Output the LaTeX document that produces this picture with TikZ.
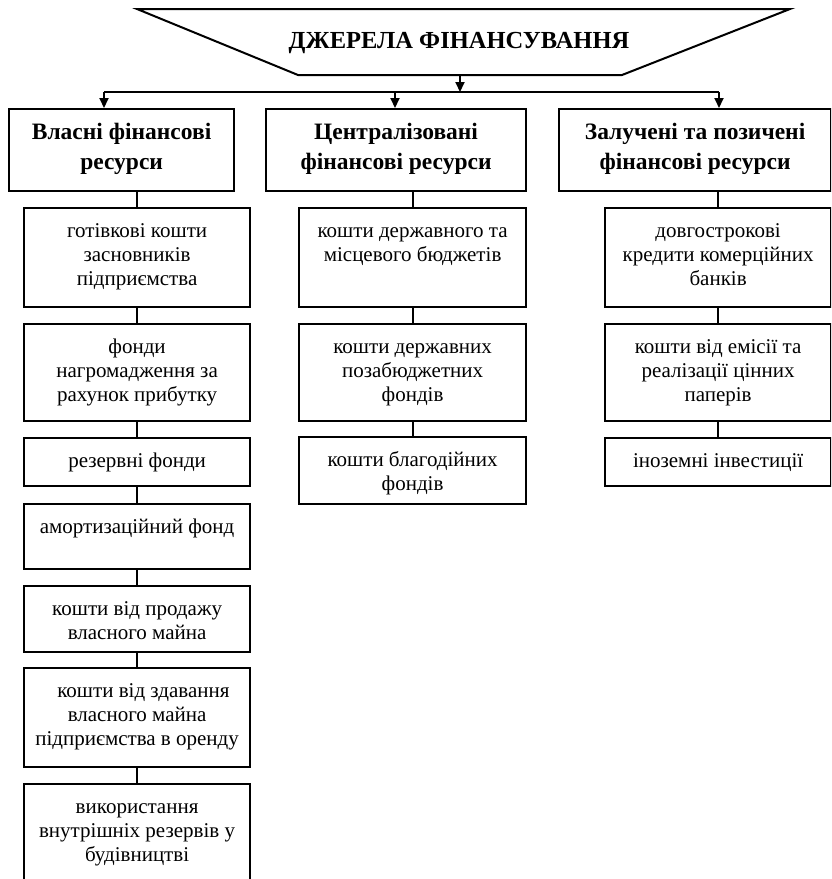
\documentclass[tikz,border=0pt]{standalone}
\usepackage{fontspec}
\setmainfont{Liberation Serif}
\usetikzlibrary{arrows.meta}
\tikzset{
  frame/.style={draw, line width=2.2pt, inner sep=0pt, anchor=north west},
  conn/.style={line width=2pt},
  arr/.style={line width=2pt, -{Triangle[length=10pt,width=9pt]}},
  head/.style={font=\bfseries\fontsize{23.5}{30}\selectfont, align=center, inner sep=0pt},
  body/.style={font=\fontsize{21}{24}\selectfont, align=center, inner sep=0pt, anchor=north},
  ttl/.style={font=\bfseries\fontsize{24.5}{28}\selectfont, inner sep=0pt}
}
\begin{document}
\begin{tikzpicture}[x=1pt,y=-1pt]
\useasboundingbox (0,0) rectangle (831,879);
\clip (0,0) rectangle (831,879);
% source trapezoid
\draw[line width=2pt, line join=miter] (137,9) -- (790,9) -- (622,75) -- (298,75) -- cycle;
\node[ttl] (src) at (459,43) {ДЖЕРЕЛА ФІНАНСУВАННЯ};
\coordinate (srcb) at (460,75);
\coordinate (bus) at (460,92);
\coordinate (b1) at (104,92);
\coordinate (b2) at (395,92);
\coordinate (b3) at (719,92);
% headers
\node[frame, minimum width=225pt, minimum height=82pt] (h1) at (8,108) {};
\node[frame, minimum width=260pt, minimum height=82pt] (h2) at (265,108) {};
\node[frame, minimum width=272pt, minimum height=82pt] (h3) at (558,108) {};
\node[head] (th1) at ([yshift=1pt]h1.center) {Власні фінансові\\ресурси};
\node[head] (th2) at ([yshift=1pt]h2.center) {Централізовані\\фінансові ресурси};
\node[head] (th3) at ([yshift=1pt]h3.center) {Залучені та позичені\\фінансові ресурси};
% connectors from source
\draw[arr] (srcb) -- (bus);
\draw[conn] (b1) -- (b3);
\draw[arr] (b1) -- (h1.north -| b1);
\draw[arr] (b2) -- (h2.north -| b2);
\draw[arr] (b3) -- (h3.north -| b3);
% column 1
\node[frame, minimum width=226pt, minimum height=99pt] (a1) at (23,207) {};
\node[frame, minimum width=226pt, minimum height=97pt] (a2) at (23,323) {};
\node[frame, minimum width=226pt, minimum height=48pt] (a3) at (23,437) {};
\node[frame, minimum width=226pt, minimum height=65pt] (a4) at (23,503) {};
\node[frame, minimum width=226pt, minimum height=66pt] (a5) at (23,585) {};
\node[frame, minimum width=226pt, minimum height=99pt] (a6) at (23,667) {};
\node[frame, minimum width=226pt, minimum height=130pt] (a7) at (23,783) {};
\node[body] (ta1) at ([yshift=-13pt]a1.north) {\strut готівкові кошти\\засновників\\підприємства};
\node[body] (ta2) at ([yshift=-13pt]a2.north) {\strut фонди\\нагромадження за\\рахунок прибутку};
\node[body] (ta3) at ([yshift=-13pt]a3.north) {\strut резервні фонди};
\node[body] (ta4) at ([yshift=-13pt]a4.north) {\strut амортизаційний фонд};
\node[body] (ta5) at ([yshift=-13pt]a5.north) {\strut кошти від продажу\\власного майна};
\node[body] (ta6) at ([yshift=-13pt]a6.north) {\strut\hspace*{0.6em}кошти від здавання\\власного майна\\підприємства в оренду};
\node[body] (ta7) at ([yshift=-13pt]a7.north) {\strut використання\\внутрішніх резервів у\\будівництві};
% column 2
\node[frame, minimum width=227pt, minimum height=99pt] (c1) at (298,207) {};
\node[frame, minimum width=227pt, minimum height=97pt] (c2) at (298,323) {};
\node[frame, minimum width=227pt, minimum height=67pt] (c3) at (298,436) {};
\node[body] (tc1) at ([yshift=-13pt]c1.north) {\strut кошти державного та\\місцевого бюджетів};
\node[body] (tc2) at ([yshift=-13pt]c2.north) {\strut кошти державних\\позабюджетних\\фондів};
\node[body] (tc3) at ([yshift=-13pt]c3.north) {\strut кошти благодійних\\фондів};
% column 3
\node[frame, minimum width=226pt, minimum height=99pt] (d1) at (604,207) {};
\node[frame, minimum width=226pt, minimum height=97pt] (d2) at (604,323) {};
\node[frame, minimum width=226pt, minimum height=48pt] (d3) at (604,437) {};
\node[body] (td1) at ([yshift=-13pt]d1.north) {\strut довгострокові\\кредити комерційних\\банків};
\node[body] (td2) at ([yshift=-13pt]d2.north) {\strut кошти від емісії та\\реалізації цінних\\паперів};
\node[body] (td3) at ([yshift=-13pt]d3.north) {\strut іноземні інвестиції};
% vertical chains
\draw[conn] (h1.south -| a1.north) -- (a1.north);
\draw[conn] (a1.south) -- (a2.north);
\draw[conn] (a2.south) -- (a3.north);
\draw[conn] (a3.south) -- (a4.north);
\draw[conn] (a4.south) -- (a5.north);
\draw[conn] (a5.south) -- (a6.north);
\draw[conn] (a6.south) -- (a7.north);
\draw[conn] (h2.south -| c1.north) -- (c1.north);
\draw[conn] (c1.south) -- (c2.north);
\draw[conn] (c2.south) -- (c3.north);
\draw[conn] (h3.south -| d1.north) -- (d1.north);
\draw[conn] (d1.south) -- (d2.north);
\draw[conn] (d2.south) -- (d3.north);
\end{tikzpicture}
\end{document}
